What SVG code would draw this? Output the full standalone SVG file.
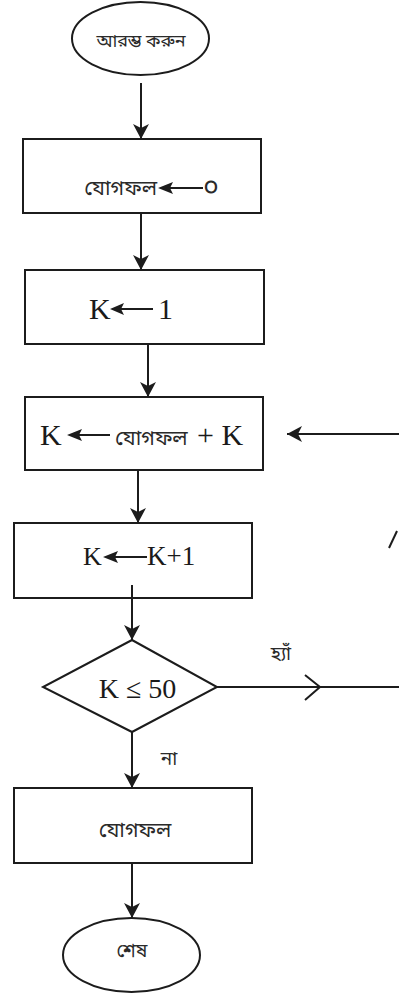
<svg xmlns="http://www.w3.org/2000/svg" width="399" height="993" viewBox="0 0 399 993">
  <style>
    .shape { fill: #ffffff; stroke: #1c1c1c; stroke-width: 2; }
    .conn { stroke: #1c1c1c; stroke-width: 2; fill: none; }
    .head { fill: #1c1c1c; stroke: none; }
    .lat { font-family: "Liberation Serif", "Times New Roman", serif; fill: #1a1a1a; }
    .bn { font-family: "Noto Sans Bengali", "Noto Serif Bengali", "Lohit Bengali", "FreeSerif", "Liberation Serif", serif; fill: #2a2a2a; }
  </style>
  <defs>
    <marker id="arrow" markerUnits="userSpaceOnUse" markerWidth="18" markerHeight="18" refX="15" refY="8" orient="auto">
      <path d="M15,8 L0,0 L4,8 L0,16 Z" fill="#1c1c1c"/>
    </marker>
  </defs>

  <!-- start terminal -->
  <g id="start">
    <ellipse class="shape" cx="140.5" cy="38.5" rx="68.5" ry="36.5"/>
    <text class="bn" x="141" y="47" font-size="18" text-anchor="middle">আরম্ভ করুন</text>
  </g>

  <!-- sum = 0 -->
  <g id="init-sum">
    <rect class="shape" x="23" y="139" width="238" height="74"/>
    <text class="bn" x="157" y="195" font-size="21" text-anchor="end">যোগফল</text>
    <path class="head" d="M158,188 L173,182 L170,188 L173,194 Z"/>
    <line class="conn" x1="170" y1="188" x2="203" y2="188"/>
    <text class="bn" x="211" y="196" font-size="27" text-anchor="middle">০</text>
  </g>

  <!-- K = 1 -->
  <g id="init-k">
    <rect class="shape" x="25" y="270" width="239" height="74"/>
    <text class="lat" x="89" y="319" font-size="30">K</text>
    <path class="head" d="M110,309 L124,303 L121,309 L124,315 Z"/>
    <line class="conn" x1="121" y1="309" x2="153" y2="309"/>
    <text class="lat" x="158" y="319" font-size="30">1</text>
  </g>

  <!-- K = sum + K -->
  <g id="accumulate">
    <rect class="shape" x="25" y="397" width="238" height="73"/>
    <text class="lat" x="40" y="445" font-size="30">K</text>
    <path class="head" d="M67,435 L82,429 L79,435 L82,441 Z"/>
    <line class="conn" x1="79" y1="435" x2="110" y2="435"/>
    <text class="bn" x="115" y="445" font-size="21">যোগফল</text>
    <text class="lat" x="197" y="445" font-size="30">+ K</text>
  </g>

  <!-- K = K + 1 -->
  <g id="increment">
    <rect class="shape" x="14" y="523" width="238" height="75"/>
    <text class="lat" x="83" y="565" font-size="26">K</text>
    <path class="head" d="M103,557 L118,551 L115,557 L118,563 Z"/>
    <line class="conn" x1="115" y1="557" x2="147" y2="557"/>
    <text class="lat" x="147" y="565" font-size="27">K+1</text>
  </g>

  <!-- K <= 50 decision -->
  <g id="check">
    <polygon class="shape" points="132,640 217,687 132,732 43,687"/>
    <text class="lat" x="137.5" y="698" font-size="28" text-anchor="middle">K ≤ 50</text>
  </g>

  <!-- output sum -->
  <g id="output">
    <rect class="shape" x="14" y="788" width="238" height="75"/>
    <text class="bn" x="135" y="837" font-size="21" text-anchor="middle">যোগফল</text>
  </g>

  <!-- end terminal -->
  <g id="end">
    <ellipse class="shape" cx="131.5" cy="955" rx="68.5" ry="37"/>
    <text class="bn" x="132" y="957" font-size="19" text-anchor="middle">শেষ</text>
  </g>

  <!-- connectors -->
  <g id="connectors">
    <line class="conn" x1="141" y1="83" x2="141" y2="139" marker-end="url(#arrow)"/>
    <line class="conn" x1="141" y1="213" x2="141" y2="270" marker-end="url(#arrow)"/>
    <line class="conn" x1="148" y1="344" x2="148" y2="397" marker-end="url(#arrow)"/>
    <line class="conn" x1="138" y1="470" x2="138" y2="523" marker-end="url(#arrow)"/>
    <line class="conn" x1="132" y1="585" x2="132" y2="640" marker-end="url(#arrow)"/>
    <line class="conn" x1="132" y1="732" x2="132" y2="788" marker-end="url(#arrow)"/>
    <line class="conn" x1="132" y1="863" x2="132" y2="918" marker-end="url(#arrow)"/>
    <!-- yes branch leaving the decision -->
    <line class="conn" x1="217" y1="687" x2="399" y2="687"/>
    <path class="conn" d="M305,675 L320,687 L305,700"/>
    <text class="bn" x="281" y="660" font-size="19" text-anchor="middle">হ্যাঁ</text>
    <!-- loop back into the accumulate step -->
    <line class="conn" x1="399" y1="434" x2="287" y2="434" marker-end="url(#arrow)"/>
    <line class="conn" x1="389" y1="548" x2="397" y2="531"/>
    <!-- no branch label -->
    <text class="bn" x="169" y="765" font-size="19" text-anchor="middle">না</text>
  </g>
</svg>
